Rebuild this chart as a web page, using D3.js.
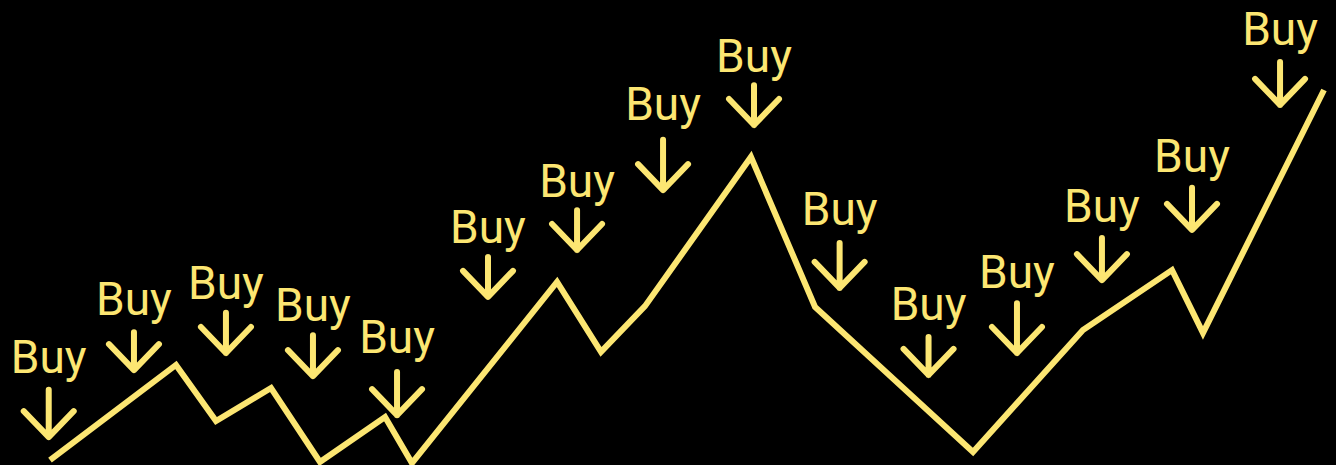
<!DOCTYPE html>
<html>
<head>
<meta charset="utf-8">
<script src="https://cdn.jsdelivr.net/npm/d3@7"></script>
<style>
  html, body { margin: 0; padding: 0; background: #000; }
  svg { display: block; }
</style>
</head>
<body>
<svg id="chart" width="1336" height="465"></svg>
<script>
// Price path (time, price)
const pathTime  = [0, 9.89, 13.03, 17.35, 21.19, 26.30, 28.41, 39.80, 43.25, 46.70, 55.02, 60.05, 72.45, 81.08, 88.07, 90.50, 100];
const pathPrice = [0.5, 26.1, 11.0, 19.9, 0, 12.1, -0.3, 48.4, 29.6, 41.9, 82.0, 41.7, 2.7, 35.5, 51.6, 34.7, 100];

// "Buy" markers
const buyLabel   = "Buy";
const buyTime    = [-0.1, 6.59, 13.81, 20.64, 27.24, 34.38, 41.37, 48.12, 55.26, 61.98, 68.96, 75.90, 82.57, 89.64, 96.55];
const buyTextY   = [23.9, 39.5, 43.8, 37.9, 29.3, 58.9, 71.2, 91.9, 104.8, 63.7, 38.2, 46.8, 64.5, 78.0, 112.1];
const buyArrowTop = [19.4, 34.9, 40.1, 34.1, 24.2, 55.1, 67.7, 86.6, 101.3, 58.9, 33.6, 42.7, 60.2, 73.7, 107.5];
const buyArrowTip = [6.7, 24.7, 29.3, 23.1, 12.6, 44.4, 57.0, 73.1, 90.6, 46.8, 23.4, 29.3, 48.9, 62.4, 96.0];

const color = "#FCE672";
const svg = d3.select("#chart");

const x = d3.scaleLinear().domain([0, 100]).range([50, 1324]);
const y = d3.scaleLinear().domain([0, 100]).range([462, 90]);

svg.append("rect").attr("width", 1336).attr("height", 465).attr("fill", "#000");

const pts = pathTime.map((t, i) => [t, pathPrice[i]]);
svg.append("path")
  .datum(pts)
  .attr("fill", "none")
  .attr("stroke", color)
  .attr("stroke-width", 6)
  .attr("stroke-linejoin", "miter")
  .attr("stroke-linecap", "butt")
  .attr("d", d3.line().x(d => x(d[0])).y(d => y(d[1])));

const buys = buyTime.map((t, i) => ({ t, ty: buyTextY[i], top: buyArrowTop[i], tip: buyArrowTip[i] }));

const g = svg.append("g").selectAll("g").data(buys).join("g");

g.append("text")
  .attr("x", d => x(d.t))
  .attr("y", d => y(d.ty))
  .attr("text-anchor", "middle")
  .attr("fill", color)
  .attr("font-family", "Roboto, 'Open Sans', sans-serif")
  .attr("font-size", 46)
  .text(buyLabel);

const arm = 25, armH = 26;
g.append("path")
  .attr("fill", "none")
  .attr("stroke", color)
  .attr("stroke-width", 6)
  .attr("stroke-linecap", "round")
  .attr("stroke-linejoin", "round")
  .attr("d", d => {
    const cx = x(d.t), t0 = y(d.top), t1 = y(d.tip);
    return `M${cx},${t0}L${cx},${t1}M${cx - arm},${t1 - armH}L${cx},${t1}L${cx + arm},${t1 - armH}`;
  });
</script>
</body>
</html>
